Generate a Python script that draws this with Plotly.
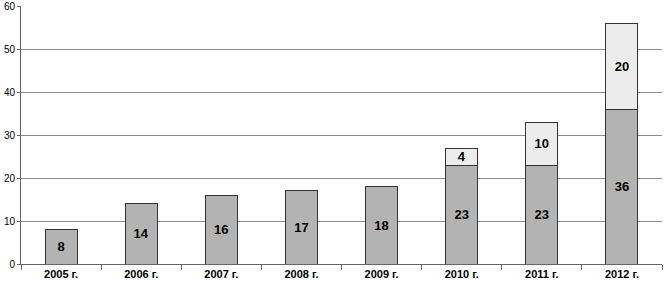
import plotly.graph_objects as go

categories = ["2005 г.", "2006 г.", "2007 г.", "2008 г.", "2009 г.", "2010 г.", "2011 г.", "2012 г."]
base_values = [8, 14, 16, 17, 18, 23, 23, 36]
top_values = [None, None, None, None, None, 4, 10, 20]
y_ticks = [0, 10, 20, 30, 40, 50, 60]

label_font = dict(family="Liberation Sans, Arial", size=13, color="black", weight="bold")

fig = go.Figure()
fig.add_trace(go.Bar(
    x=categories, y=base_values,
    text=[str(v) for v in base_values],
    textposition="inside", insidetextanchor="middle", textangle=0,
    textfont=label_font,
    marker=dict(color="#b3b3b3", line=dict(color="#333333", width=1)),
    width=0.4, showlegend=False,
))
fig.add_trace(go.Bar(
    x=categories, y=top_values,
    text=[str(v) if v else "" for v in top_values],
    textposition="inside", insidetextanchor="middle", textangle=0,
    textfont=label_font,
    marker=dict(color="#ececec", line=dict(color="#333333", width=1)),
    width=0.4, showlegend=False,
))
fig.update_layout(
    barmode="stack",
    width=664, height=284,
    margin=dict(l=21, r=2, t=6, b=20, autoexpand=False),
    plot_bgcolor="white", paper_bgcolor="white",
    font=dict(family="Liberation Sans, Arial", size=10, color="black"),
    uniformtext=dict(mode="show", minsize=13),
)
fig.update_yaxes(
    range=[0, 60.05], tickvals=y_ticks, showgrid=True, gridcolor="#8c8c8c", gridwidth=1,
    showline=True, linecolor="#666666", linewidth=1, ticks="outside", ticklen=3,
    tickcolor="#666666", zeroline=False, tickfont=dict(size=10), automargin=False,
)
fig.update_xaxes(
    showline=True, linecolor="#666666", linewidth=1, ticks="outside", ticklen=5,
    tickcolor="#666666", tickson="boundaries", automargin=False,
    tickfont=dict(size=11, weight="bold"),
)
fig.write_html(
    "out.html",
    config={"displayModeBar": False},
    post_script="document.body.style.margin='0';document.body.style.padding='0';document.body.style.overflow='hidden';",
)
